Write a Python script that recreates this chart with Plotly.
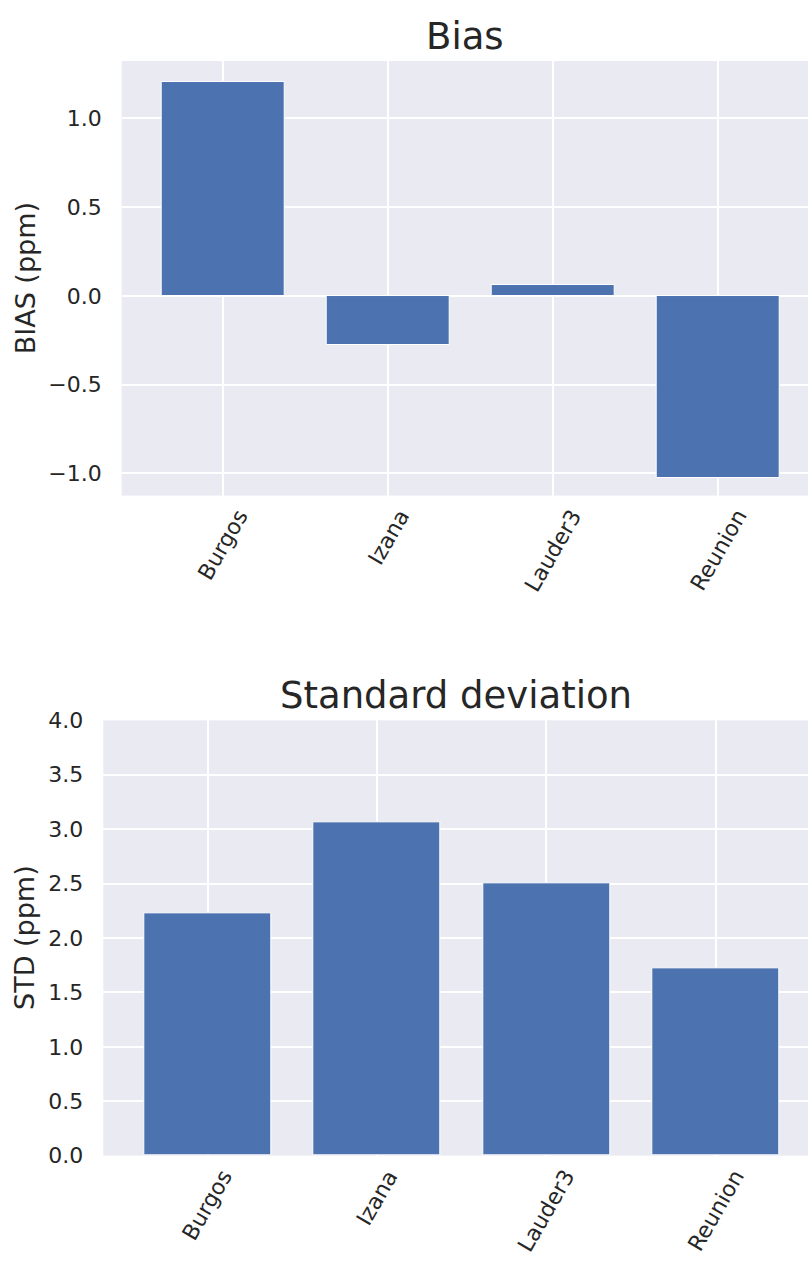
import plotly.graph_objects as go

stations = ["Burgos", "Izana", "Lauder3", "Reunion"]
bias_ppm = [1.203, -0.279, 0.062, -1.025]
std_ppm = [2.227, 3.067, 2.506, 1.722]
bias_ticks = [-1.0, -0.5, 0.0, 0.5, 1.0]
std_ticks = [0.0, 0.5, 1.0, 1.5, 2.0, 2.5, 3.0, 3.5, 4.0]

W, H = 809, 1275
BAR = "#4C72B0"
BG = "#EAEAF2"
TXT = "#262626"
FONT = "DejaVu Sans"

xidx = list(range(len(stations)))

fig = go.Figure()
fig.add_trace(go.Bar(x=xidx, y=bias_ppm, width=0.75, marker=dict(color=BAR, line=dict(color="white", width=1)),
                     xaxis="x", yaxis="y", showlegend=False))
fig.add_trace(go.Bar(x=xidx, y=std_ppm, width=0.75, marker=dict(color=BAR, line=dict(color="white", width=1)),
                     xaxis="x2", yaxis="y2", showlegend=False))

def fmt(v):
    s = f"{v:.1f}"
    return s.replace("-", "\u2212")

xr = [-0.616, 3.545]
common_x = dict(range=xr, tickvals=xidx, showticklabels=False, showgrid=True, gridcolor="white",
                gridwidth=1.6, zeroline=False, showline=False, ticks="", fixedrange=True)
common_y = dict(showgrid=True, gridcolor="white", gridwidth=1.6, zeroline=False, showline=False, ticks="",
                tickfont=dict(family=FONT, size=22, color=TXT), ticklabelstandoff=19)

fig.update_layout(
    width=W, height=H,
    margin=dict(l=0, r=0, t=0, b=0),
    paper_bgcolor="white", plot_bgcolor=BG,
    font=dict(family=FONT, color=TXT),
    bargap=0,
    xaxis=dict(domain=[121.7 / W, 808 / W], anchor="y", **common_x),
    yaxis=dict(domain=[1 - 493.3 / H, 1 - 50 / H], anchor="x", range=[-1.125, 1.322],
               tickvals=bias_ticks, ticktext=[fmt(v) for v in bias_ticks], **common_y),
    xaxis2=dict(domain=[103.3 / W, 808 / W], anchor="y2", **common_x),
    yaxis2=dict(domain=[1 - 1166.5 / H, 1 - 722.5 / H], anchor="x2", range=[0, 4],
                tickvals=std_ticks, ticktext=[fmt(v) for v in std_ticks], **common_y),
)

ann = []
for xa, ya, title, ylab in [("x", "y", "Bias", "BIAS (ppm)"), ("x2", "y2", "Standard deviation", "STD (ppm)")]:
    ann.append(dict(text=title, xref=f"{xa} domain", yref=f"{ya} domain", x=0.5, y=1, xanchor="center",
                    yanchor="bottom", yshift=1, showarrow=False, font=dict(family=FONT, size=37, color=TXT)))
    ann.append(dict(text=ylab, xref="paper", yref=f"{ya} domain", x=25 / W, y=0.5, xanchor="center",
                    yanchor="middle", textangle=-90, showarrow=False, font=dict(family=FONT, size=27, color=TXT)))
    for i, s in enumerate(stations):
        ann.append(dict(text=s, xref=xa, yref=f"{ya} domain", x=i, y=0, xanchor="center", yanchor="top",
                        yshift=-7, textangle=-60, showarrow=False, font=dict(family=FONT, size=22, color=TXT)))
fig.update_layout(annotations=ann)

fig.write_html("out.html", config={"displayModeBar": False},
               post_script="document.body.style.margin='0';document.body.style.overflow='hidden';")
